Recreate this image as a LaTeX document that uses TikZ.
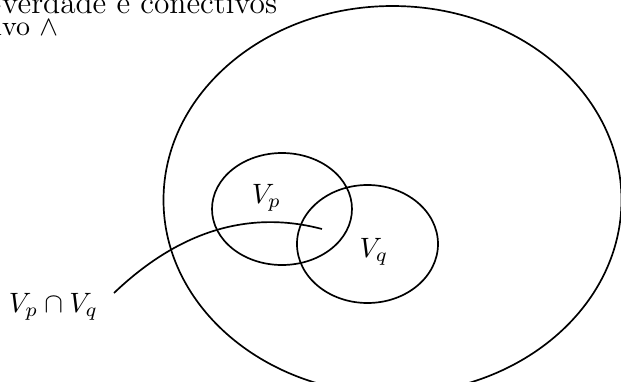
\documentclass[tikz,border=0pt]{standalone}
\begin{document}
\begin{tikzpicture}[x=0.357pt,y=-0.357pt, line width=0.6pt,
  every node/.style={inner sep=0pt},
  txt/.style={anchor=base},
  set/.style={draw}]
\useasboundingbox (0,0) rectangle (621,381);
\clip (0,0) rectangle (621,381);
\node[anchor=base east, font=\fontsize{11.2}{13}\selectfont] (title) at (278,13) {Tabelas-verdade e conectivos};
\node[anchor=base east] (conn) at (59,35) {Conectivo $\wedge$};
\draw[set] (392.5,200) ellipse [x radius=229, y radius=194];
\draw[set] (282,209) ellipse [x radius=70, y radius=56];
\draw[set] (367.5,244) ellipse [x radius=70.5, y radius=59];
\node[txt] (vp) at (266.5,203) {$V_p$};
\node[txt] (vq) at (374,257) {$V_q$};
\node[txt] (lab) at (53.5,312) {$V_p\cap V_q$};
\coordinate (s) at (114,293);
\coordinate (e) at (322,229);
\draw (s) .. controls (180,230) and (250,210) .. (e);
\end{tikzpicture}
\end{document}
